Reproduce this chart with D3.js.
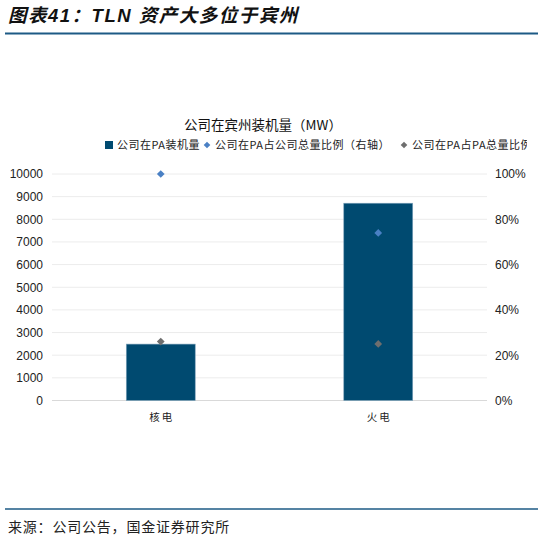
<!DOCTYPE html>
<html>
<head>
<meta charset="utf-8">
<script src="https://cdn.jsdelivr.net/npm/d3@7"></script>
<style>
  body { margin: 0; background: #fff; }
  svg { display: block; font-family: "Liberation Sans", Arial, "Noto Sans CJK SC", sans-serif; }
</style>
</head>
<body>
<script>
// data
const categories = ["核电", "火电"];
const capacityMW = [2490, 8710];          // 公司在PA装机量 (left axis)
const shareOfCompany = [1.00, 0.74];       // 公司在PA占公司总量比例 (right axis)
const shareOfPA = [0.26, 0.25];            // 公司在PA占PA总量比例 (right axis)
const leftTicks = [0, 1000, 2000, 3000, 4000, 5000, 6000, 7000, 8000, 9000, 10000];
const rightTicks = [0, 0.2, 0.4, 0.6, 0.8, 1.0];
const legendNames = ["公司在PA装机量", "公司在PA占公司总量比例（右轴）", "公司在PA占PA总量比例"];

const W = 544, H = 540;
const cjk = '"Noto Sans CJK SC", sans-serif';
const barColor = "#004a70", blueDot = "#4a80c4", greyDot = "#6e6e6e", lineBlue = "#1d5a85";

const svg = d3.select("body").append("svg")
  .attr("width", W)
  .attr("height", H);

// header
svg.append("text")
  .attr("x", 8).attr("y", 22)
  .attr("font-size", 18.5).attr("font-weight", "bold").attr("font-style", "italic")
  .attr("letter-spacing", 1.5)
  .attr("font-family", '"Liberation Sans", "Noto Sans CJK SC", sans-serif')
  .attr("fill", "#111")
  .text("图表41：TLN 资产大多位于宾州");
svg.append("line")
  .attr("x1", 5).attr("x2", 538).attr("y1", 33.5).attr("y2", 33.5)
  .attr("stroke", lineBlue).attr("stroke-width", 2);

// footer
svg.append("line")
  .attr("x1", 5).attr("x2", 538).attr("y1", 509).attr("y2", 509)
  .attr("stroke", lineBlue).attr("stroke-width", 1.5);
svg.append("text")
  .attr("x", 8).attr("y", 532)
  .attr("font-size", 14).attr("letter-spacing", 0.8)
  .attr("font-family", cjk).attr("fill", "#222")
  .text("来源：公司公告，国金证券研究所");

// chart area
const m = { left: 52, right: 487, top: 174, bottom: 400.5 };

const x = d3.scaleBand()
  .domain(categories)
  .range([m.left, m.right])
  .paddingInner(0.683)
  .paddingOuter(0.3415);

const yL = d3.scaleLinear().domain([0, 10000]).range([m.bottom, m.top]);
const yR = d3.scaleLinear().domain([0, 1]).range([m.bottom, m.top]);

// gridlines
svg.append("g")
  .selectAll("line")
  .data(leftTicks)
  .enter()
  .append("line")
  .attr("x1", m.left).attr("x2", m.right)
  .attr("y1", d => yL(d)).attr("y2", d => yL(d))
  .attr("stroke", d => d === 0 ? "#d9d9d9" : "#ececec")
  .attr("stroke-width", 1);

// left axis
const axL = svg.append("g")
  .attr("transform", `translate(${m.left},0)`)
  .call(d3.axisLeft(yL).tickValues(leftTicks).tickSize(0).tickPadding(9).tickFormat(d3.format("d")));
axL.select(".domain").remove();
axL.selectAll("text").attr("font-size", 12).attr("fill", "#222")
  .attr("font-family", '"Liberation Sans", Arial, sans-serif');

// right axis
const axR = svg.append("g")
  .attr("transform", `translate(${m.right},0)`)
  .call(d3.axisRight(yR).tickValues(rightTicks).tickSize(0).tickPadding(8).tickFormat(d3.format(".0%")));
axR.select(".domain").remove();
axR.selectAll("text").attr("font-size", 12).attr("fill", "#222")
  .attr("font-family", '"Liberation Sans", Arial, sans-serif');

// category axis
svg.append("g")
  .selectAll("text")
  .data(categories)
  .enter()
  .append("text")
  .attr("x", d => x(d) + x.bandwidth() / 2 + 1)
  .attr("y", 421)
  .attr("text-anchor", "middle")
  .attr("font-size", 10.5).attr("letter-spacing", 2)
  .attr("font-family", cjk).attr("fill", "#222")
  .text(d => d);

// bars
svg.append("g")
  .selectAll("rect")
  .data(capacityMW)
  .enter()
  .append("rect")
  .attr("x", (d, i) => x(categories[i]))
  .attr("width", x.bandwidth())
  .attr("y", d => yL(d))
  .attr("height", d => yL(0) - yL(d))
  .attr("fill", barColor)
  .attr("stroke", "#7fa3bb")
  .attr("stroke-width", 0.6);

// diamonds
const diamond = d3.symbol().type(d3.symbolDiamond2).size(38);
const drawDots = (vals, color) => {
  svg.append("g")
    .selectAll("path")
    .data(vals)
    .enter()
    .append("path")
    .attr("d", diamond)
    .attr("transform", (d, i) => `translate(${x(categories[i]) + x.bandwidth() / 2},${yR(d)})`)
    .attr("fill", color);
};
drawDots(shareOfCompany, blueDot);
drawDots(shareOfPA, greyDot);

// chart title
svg.append("text")
  .attr("x", 263).attr("y", 130)
  .attr("text-anchor", "middle")
  .attr("font-size", 13.5).attr("font-family", cjk).attr("fill", "#111")
  .text("公司在宾州装机量（MW）");

// legend, clipped at the right like the source
svg.append("clipPath").attr("id", "legclip")
  .append("rect").attr("x", 0).attr("y", 130).attr("width", 527).attr("height", 30);

const leg = svg.append("g").attr("clip-path", "url(#legclip)");
const legX = [105, 203, 400];
const legColors = [barColor, blueDot, greyDot];
legendNames.forEach((name, i) => {
  const g = leg.append("g").attr("transform", `translate(${legX[i]},145)`);
  if (i === 0) {
    g.append("rect").attr("x", 0).attr("y", -4).attr("width", 8).attr("height", 8).attr("fill", legColors[i]);
  } else {
    g.append("path").attr("d", d3.symbol().type(d3.symbolDiamond2).size(28)())
      .attr("transform", "translate(4,0)").attr("fill", legColors[i]);
  }
  g.append("text")
    .attr("x", 12).attr("y", 4)
    .attr("font-size", 11).attr("letter-spacing", 0.5)
    .attr("font-family", cjk).attr("fill", "#222")
    .text(name);
});
</script>
</body>
</html>
